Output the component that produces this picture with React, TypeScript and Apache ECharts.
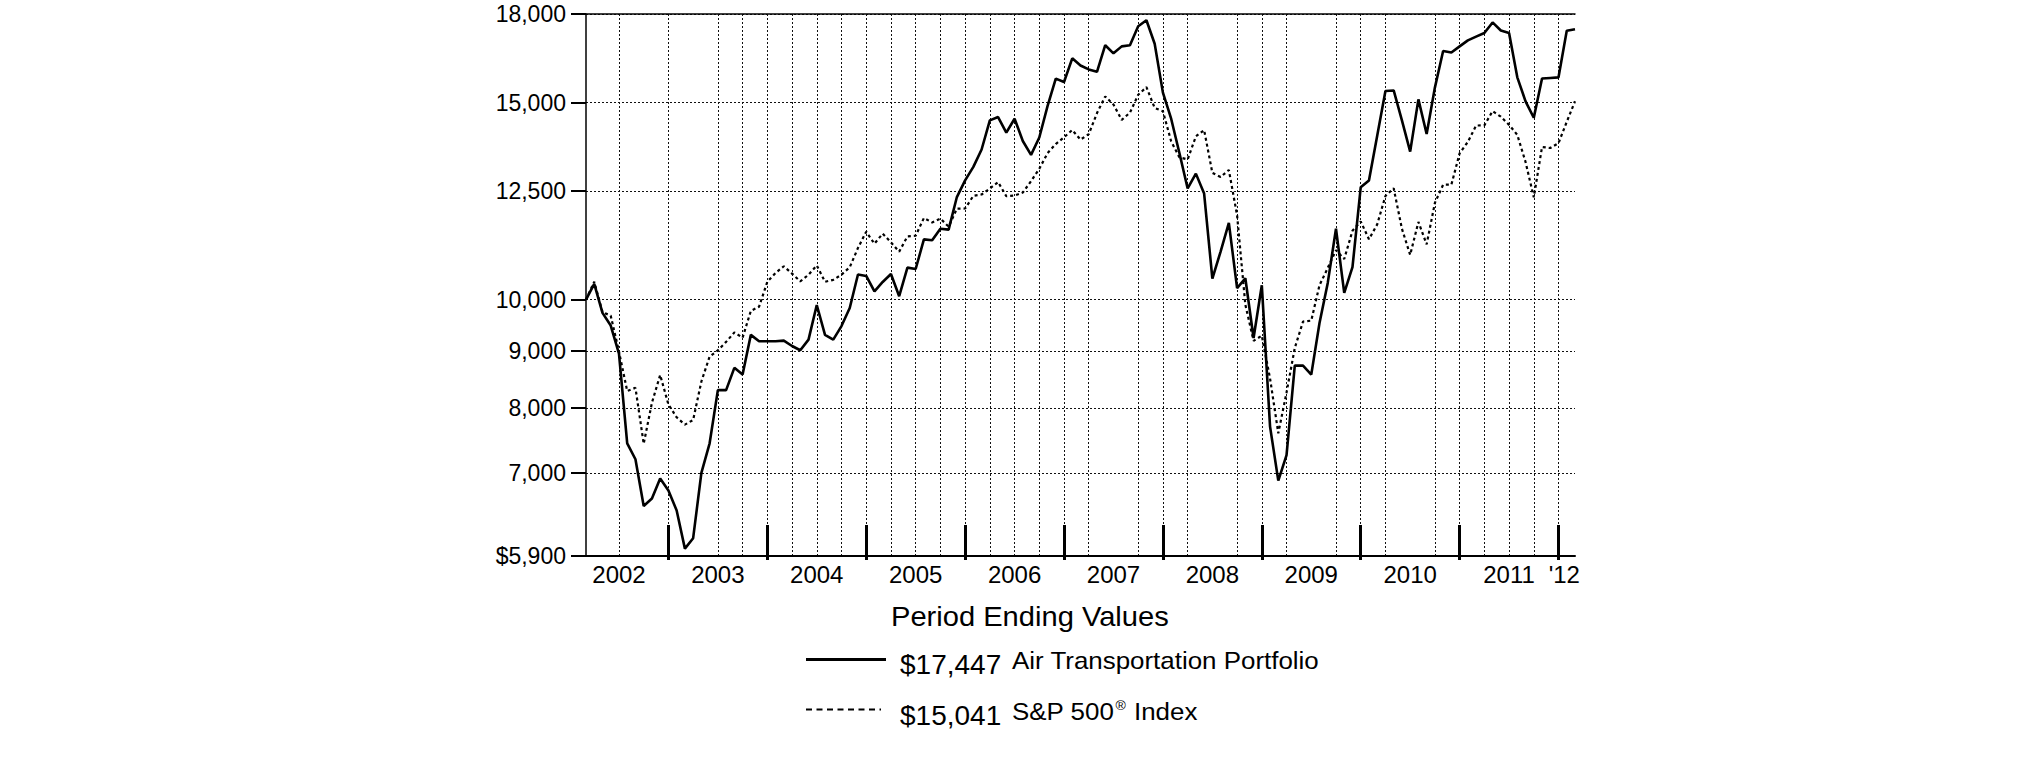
import React, { useEffect, useRef } from 'react';
import * as echarts from 'echarts';

// Month index 0 = Feb 2002, 120 = Feb 2012 (month-end values, $10,000 start)
const airValues = [
  10000, 10330, 9730, 9480, 8950, 7440, 7200, 6540, 6640, 6920, 6750,
  6480, 5990, 6120, 7000, 7440, 8300, 8300, 8690, 8570, 9300, 9180, 9180,
  9180, 9190, 9090, 9010, 9210, 9890, 9300, 9210, 9470, 9830, 10530, 10500,
  10170, 10370, 10540, 10070, 10680, 10650, 11320, 11300, 11570, 11550, 12350, 12780,
  13140, 13620, 14460, 14560, 14100, 14510, 13860, 13470, 13960, 14890, 15760, 15650,
  16430, 16190, 16060, 15980, 16880, 16600, 16840, 16880, 17550, 17770, 16930, 15310,
  14510, 13520, 12570, 12960, 12440, 10440, 11040, 11710, 10240, 10450, 9240, 10300,
  7700, 6890, 7260, 8730, 8730, 8570, 9530, 10350, 11570, 10140, 10690, 12600,
  12780, 14010, 15360, 15380, 14460, 13560, 15100, 14060, 15470, 16680, 16630, 16840,
  17050, 17180, 17310, 17690, 17400, 17310, 15800, 15040, 14540, 15760, 15780, 15800,
  17390, 17447,
];

const spValues = [
  10000, 10376, 9747, 9675, 8986, 8285, 8340, 7433, 8087, 8563, 8060,
  7849, 7731, 7806, 8449, 8894, 9008, 9167, 9346, 9247, 9770, 9856, 10373,
  10564, 10711, 10549, 10383, 10525, 10729, 10374, 10415, 10528, 10689, 11122, 11500,
  11219, 11455, 11252, 11038, 11389, 11405, 11829, 11721, 11816, 11619, 12058, 12062,
  12382, 12415, 12569, 12737, 12370, 12387, 12464, 12761, 13090, 13517, 13774, 13967,
  14178, 13900, 14056, 14679, 15191, 14939, 14476, 14693, 15242, 15484, 14837, 14735,
  13851, 13401, 13343, 13993, 14175, 12980, 12871, 13058, 11894, 9897, 9187, 9284,
  8501, 7596, 8261, 9052, 9558, 9577, 10301, 10673, 11071, 10872, 11524, 11746,
  11323, 11674, 12378, 12574, 11569, 10964, 11733, 11204, 12203, 12667, 12668, 13514,
  13834, 14308, 14314, 14738, 14571, 14328, 14037, 13275, 12342, 13691, 13661, 13800,
  14418, 15041,
];

const seriesNames = ['Air Transportation Portfolio', 'S&P 500', 'Index'];
const legendTitle = 'Period Ending Values';

const yTickValues = [5900, 7000, 8000, 9000, 10000, 12500, 15000, 18000];
const yTickLabels = ['$5,900', '7,000', '8,000', '9,000', '10,000', '12,500', '15,000', '18,000'];

const xLabelMonths = [4, 16, 28, 40, 52, 64, 76, 88, 100, 112, 118.7];
const xLabels = ['2002', '2003', '2004', '2005', '2006', '2007', '2008', '2009', '2010', '2011', "'12"];

const yearEndMonths = [10, 22, 34, 46, 58, 70, 82, 94, 106, 118];
const gridMonths = [
  4, 10, 16, 19, 22, 25, 28, 31, 34, 37, 40, 43, 46, 49, 52, 55, 58,
  61, 67, 70, 73, 79, 82, 85, 91, 94, 97, 103, 106, 109, 112, 115, 118,
];

const FONT = '"Liberation Sans", Arial, Helvetica, sans-serif';

function nearestLabel(values: number[], labels: string[], v: number): string {
  let best = 0;
  let bd = Infinity;
  values.forEach((t, i) => {
    const d = Math.abs(t - v) / Math.max(1, Math.abs(t));
    if (d < bd) { bd = d; best = i; }
  });
  return labels[best];
}

const money = (v: number) => '$' + v.toLocaleString('en-US');

export default function App() {
  const ref = useRef<HTMLDivElement>(null);

  useEffect(() => {
    if (!ref.current) return;
    const chart = echarts.init(ref.current, null, { renderer: 'svg' });
    const dotted = { color: '#111', width: 1, type: [2, 2] as any };
    const hiddenAxisBase = {
      type: 'value', min: 0, max: 120, position: 'bottom',
      axisLine: { show: false }, axisLabel: { show: false },
    };

    const option: any = {
      animation: false,
      backgroundColor: '#fff',
      textStyle: { fontFamily: FONT, color: '#000' },
      grid: { left: 586, top: 14, width: 989, height: 542, containLabel: false },
      xAxis: [
        {
          type: 'value', min: 0, max: 120, position: 'bottom',
          axisLine: { show: true, lineStyle: { color: '#000', width: 2 } },
          axisTick: { show: false },
          splitLine: { show: false },
          axisLabel: {
            customValues: xLabelMonths,
            formatter: (v: number) => nearestLabel(xLabelMonths, xLabels, v),
            fontSize: 24, color: '#000', fontFamily: FONT, margin: 6,
          },
        },
        {
          ...hiddenAxisBase,
          offset: 4,
          axisTick: {
            show: true, customValues: yearEndMonths, inside: true, length: 35,
            lineStyle: { color: '#000', width: 3 },
          },
          splitLine: { show: false },
        },
        {
          ...hiddenAxisBase,
          axisTick: {
            show: true, customValues: gridMonths, inside: true, length: 0.01,
            lineStyle: { color: '#000', width: 0, opacity: 0 },
          },
          splitLine: { show: true, lineStyle: dotted },
        },
        {
          type: 'value', min: 0, max: 120, position: 'top',
          axisLine: { show: true, lineStyle: { color: '#000', width: 1.5 } },
          axisTick: { show: false },
          axisLabel: { show: false },
          splitLine: { show: false },
        },
      ],
      yAxis: {
        type: 'log', logBase: 10, min: 5900, max: 18000,
        axisLine: { show: true, lineStyle: { color: '#000', width: 1.5 } },
        axisTick: {
          show: true, customValues: yTickValues, length: 15, inside: false,
          lineStyle: { color: '#000', width: 2 },
        },
        axisLabel: {
          customValues: yTickValues,
          formatter: (v: number) => nearestLabel(yTickValues, yTickLabels, v),
          fontSize: 23, color: '#000', fontFamily: FONT, margin: 20,
        },
        splitLine: { show: true, lineStyle: dotted },
      },
      series: [
        {
          type: 'line', name: seriesNames[1], xAxisIndex: 0,
          data: spValues.map((v, i) => [i, v]),
          symbol: 'none', z: 2,
          lineStyle: { color: '#000', width: 2.2, type: [3, 3] },
        },
        {
          type: 'line', name: seriesNames[0], xAxisIndex: 0,
          data: airValues.map((v, i) => [i, v]),
          symbol: 'none', z: 3,
          lineStyle: { color: '#000', width: 2.6 },
        },
      ],
      graphic: [
        {
          type: 'text', x: 891, y: 616, scaleX: 1.04,
          style: { text: legendTitle, font: `28px ${FONT}`, fill: '#000', verticalAlign: 'middle', align: 'left' },
        },
        {
          type: 'line', shape: { x1: 806, y1: 659.5, x2: 886, y2: 659.5 },
          style: { stroke: '#000', lineWidth: 3 },
        },
        {
          type: 'text', x: 900, y: 664,
          style: { text: money(airValues[airValues.length - 1]), font: `28px ${FONT}`, fill: '#000', verticalAlign: 'middle', align: 'left' },
        },
        {
          type: 'text', x: 1012, y: 660, scaleX: 1.08,
          style: { text: seriesNames[0], font: `24px ${FONT}`, fill: '#000', verticalAlign: 'middle', align: 'left' },
        },
        {
          type: 'line', shape: { x1: 806, y1: 709.5, x2: 881, y2: 709.5 },
          style: { stroke: '#000', lineWidth: 2, lineDash: [6, 4.5] },
        },
        {
          type: 'text', x: 900, y: 715,
          style: { text: money(spValues[spValues.length - 1]), font: `28px ${FONT}`, fill: '#000', verticalAlign: 'middle', align: 'left' },
        },
        {
          type: 'text', x: 1012, y: 711, scaleX: 1.08,
          style: {
            text: `{n|${seriesNames[1]}}{r|®}{n| ${seriesNames[2]}}`,
            verticalAlign: 'middle', align: 'left', fill: '#000',
            rich: {
              n: { fontSize: 24, fontFamily: FONT, fill: '#000', verticalAlign: 'bottom' },
              r: { fontSize: 13, fontFamily: FONT, fill: '#000', verticalAlign: 'top', padding: [0, 1, 0, 1] },
            },
          },
        },
      ],
    };

    chart.setOption(option);
    return () => chart.dispose();
  }, []);

  return (
    <div
      ref={ref}
      style={{ position: 'fixed', left: 0, top: 0, width: 2025, height: 761, background: '#fff' }}
    />
  );
}
